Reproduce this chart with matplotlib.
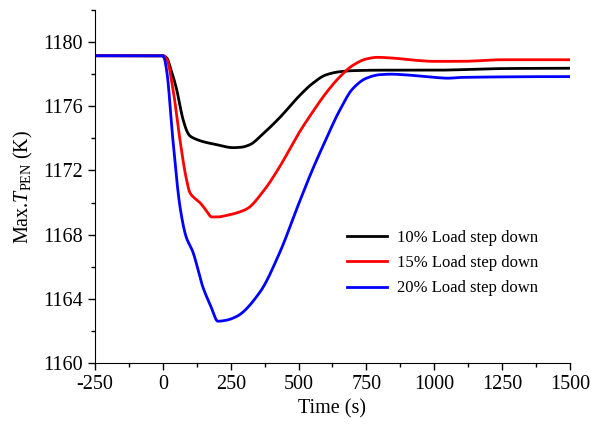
import numpy as np
import matplotlib
matplotlib.use('Agg')
import matplotlib.pyplot as plt
from matplotlib.ticker import MultipleLocator

plt.rcParams['font.family'] = 'Liberation Serif'
plt.rcParams['mathtext.fontset'] = 'custom'
plt.rcParams['mathtext.rm'] = 'Liberation Serif'
plt.rcParams['mathtext.it'] = 'Liberation Serif:italic'
plt.rcParams['axes.unicode_minus'] = False

# black: 10% load step down
t_10 = [-250, 0, 15, 26, 50, 74, 90, 100, 115, 147, 200, 258, 290, 320, 370,
        431, 500, 550, 600, 650, 700, 800, 1000, 1250, 1500]
T_10 = [1179.15, 1179.15, 1179.0, 1178.5, 1177.1, 1175.2, 1174.4, 1174.15, 1174.0,
        1173.8, 1173.6, 1173.42, 1173.45, 1173.6, 1174.3,
        1175.3, 1176.6, 1177.4, 1177.95, 1178.15, 1178.22, 1178.25, 1178.25, 1178.35, 1178.37]

# red: 15% load step down
t_15 = [-250, 0, 15, 37, 63, 85, 100, 115, 136, 160, 180, 200, 236, 309, 370,
        431, 500, 550, 600, 650, 700, 750, 790, 850, 920, 1000, 1100, 1250, 1500]
T_15 = [1179.15, 1179.15, 1178.9, 1177.1, 1173.9, 1171.6, 1170.6, 1170.3, 1170.0,
        1169.5, 1169.1, 1169.1, 1169.2, 1169.6, 1170.7,
        1172.25, 1174.3, 1175.6, 1176.8, 1177.8, 1178.55, 1178.95, 1179.05, 1179.0, 1178.88,
        1178.8, 1178.8, 1178.9, 1178.9]

# blue: 20% load step down
t_20 = [-250, 0, 5, 15, 37, 63, 85, 111, 147, 175, 203, 230, 272, 357, 431,
        500, 550, 600, 650, 700, 750, 800, 840, 900, 1000, 1050, 1100, 1500]
T_20 = [1179.15, 1179.15, 1179.0, 1178.1, 1173.9, 1169.75, 1167.9, 1166.9, 1164.75,
        1163.6, 1162.6, 1162.65, 1162.9, 1164.4, 1166.9,
        1169.9, 1172.0, 1173.9, 1175.7, 1177.1, 1177.75, 1177.97, 1178.0, 1177.95, 1177.8,
        1177.75, 1177.8, 1177.85]

labels = ['10% Load step down', '15% Load step down', '20% Load step down']
colors = ['black', 'red', 'blue']


def smooth(t, T):
    # monotone cubic (pchip-like) through the read points
    t = np.asarray(t, float)
    T = np.asarray(T, float)
    h = np.diff(t)
    d = np.diff(T) / h
    m = np.zeros_like(T)
    for i in range(1, len(T) - 1):
        if d[i - 1] * d[i] > 0:
            w1 = 2 * h[i] + h[i - 1]
            w2 = h[i] + 2 * h[i - 1]
            m[i] = (w1 + w2) / (w1 / d[i - 1] + w2 / d[i])
    xs, ys = [], []
    for i in range(len(h)):
        s = np.linspace(0, 1, 40)
        h00 = 2 * s**3 - 3 * s**2 + 1
        h10 = s**3 - 2 * s**2 + s
        h01 = -2 * s**3 + 3 * s**2
        h11 = s**3 - s**2
        xs.append(t[i] + s * h[i])
        ys.append(h00 * T[i] + h10 * h[i] * m[i] + h01 * T[i + 1] + h11 * h[i] * m[i + 1])
    return np.concatenate(xs), np.concatenate(ys)


fig = plt.figure(figsize=(5.92, 4.26), dpi=100)
ax = fig.add_axes([0.1605, 0.148, 0.8023, 0.8285])

for t, T, c, lab in zip([t_10, t_15, t_20], [T_10, T_15, T_20], colors, labels):
    x, y = smooth(t, T)
    ax.plot(x, y, color=c, lw=2, label=lab)

ax.set_xlim(-250, 1500)
ax.set_ylim(1160, 1182)
ax.xaxis.set_major_locator(MultipleLocator(250))
ax.xaxis.set_minor_locator(MultipleLocator(125))
ax.yaxis.set_major_locator(MultipleLocator(4))
ax.yaxis.set_minor_locator(MultipleLocator(2))
ax.spines['top'].set_visible(False)
ax.spines['right'].set_visible(False)
ax.tick_params(which='major', direction='out', length=5, width=1, labelsize=14.5)
ax.tick_params(which='minor', direction='out', length=3, width=1)

ax.set_xlabel('Time (s)', fontsize=14.5, labelpad=4)
ax.set_ylabel(r'Max.$T_{\mathrm{PEN}}$ (K)', fontsize=14.5, labelpad=6)

ax.legend(loc='upper left', bbox_to_anchor=(0.56, 0.495), bbox_transform=fig.transFigure,
          frameon=False, fontsize=12, handlelength=2.4, labelspacing=0.55, handletextpad=0.6)

fig.savefig('out.png', dpi=100)
